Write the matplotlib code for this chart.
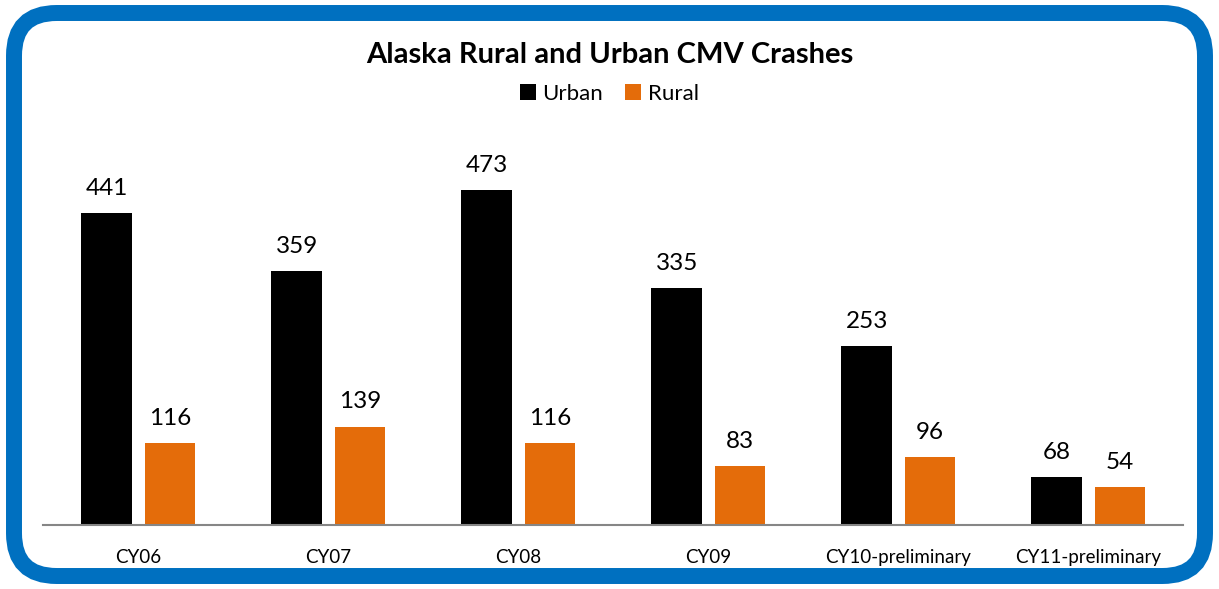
import numpy as np
import matplotlib.pyplot as plt
from matplotlib.patches import FancyBboxPatch

categories = ['CY06', 'CY07', 'CY08', 'CY09', 'CY10-preliminary', 'CY11-preliminary']
urban = [441, 359, 473, 335, 253, 68]
rural = [116, 139, 116, 83, 96, 54]

W, H = 1219, 589
plt.rcParams['font.family'] = ['Lato', 'DejaVu Sans']

fig = plt.figure(figsize=(W / 100, H / 100), dpi=100)

# blue rounded frame, behind the axes
frame = FancyBboxPatch((14 / W, 13 / H), (W - 28) / W, (H - 26) / H,
                       boxstyle='round,pad=0,rounding_size=0.035',
                       transform=fig.transFigure, facecolor='white',
                       edgecolor='#0070C0', linewidth=11.5, zorder=-1,
                       mutation_aspect=W / H)
fig.patches.append(frame)

ax = fig.add_axes([43 / W, (H - 525) / H, (1183 - 43) / W, (525 - 120) / H])
ax.set_facecolor('none')
x = np.arange(len(categories))
bw = 0.265
ax.bar(x - 0.165, urban, bw, color='black', label='Urban')
ax.bar(x + 0.167, rural, bw, color='#E46C0A', label='Rural')

for xi, u, r in zip(x, urban, rural):
    ax.text(xi - 0.165, u + 20, str(u), ha='center', va='bottom', fontsize=17.5)
    ax.text(xi + 0.167, r + 20, str(r), ha='center', va='bottom', fontsize=17.5)

ax.set_xlim(-0.5, len(categories) - 0.5)
ax.set_ylim(0, 572)
ax.set_xticks(x)
ax.set_xticklabels(categories, fontsize=13.5)
ax.tick_params(axis='x', length=0, pad=17)
ax.set_yticks([])
for s in ['top', 'right', 'left']:
    ax.spines[s].set_visible(False)
ax.spines['bottom'].set_color('#868686')
ax.spines['bottom'].set_linewidth(1.5)

fig.text(0.5, (H - 55) / H, 'Alaska Rural and Urban CMV Crashes', ha='center',
         va='center', fontsize=21, fontweight='bold')
fig.legend(loc='center', bbox_to_anchor=(0.5, (H - 94) / H), ncol=2, frameon=False,
           fontsize=16, handlelength=0.7, handleheight=0.7, columnspacing=1.0,
           handletextpad=0.3)

fig.savefig('out.png', dpi=100)
